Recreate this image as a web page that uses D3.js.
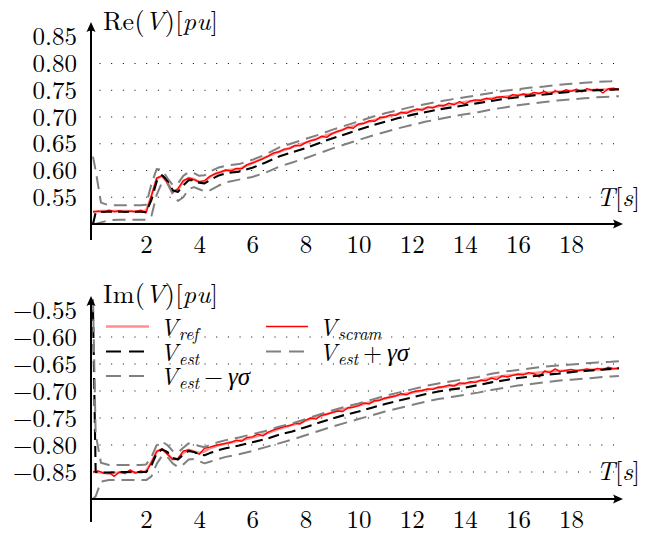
<!DOCTYPE html>
<html><head><meta charset="utf-8">
<script src="https://cdn.jsdelivr.net/npm/d3@7/dist/d3.min.js"></script>
<style>body{margin:0;background:#fff}</style></head><body>
<script>
// ---------- data ----------
const tSmooth=[0,0.1,0.3,0.6,1.0,1.4,1.8,2.0,2.2,2.4,2.6,2.8,3.0,3.2,3.4,3.6,3.8,4.0,4.2,4.4,4.7,5.0,5.5,6.0,6.5,7.0,7.5,8.0,8.5,9.0,9.5,10.0,10.5,11.0,11.5,12.0,12.5,13.0,13.5,14.0,14.5,15.0,15.5,16.0,16.5,17.0,17.5,18.0,18.5,19.0,19.5,19.8];
const tScram=[0,0.2,0.4,0.6,0.8,1.0,1.2,1.4,1.6,1.8,2.0,2.2,2.4,2.6,2.8,3.0,3.2,3.4,3.6,3.8,4.0,4.2,4.4,4.6,4.8,5.0,5.2,5.4,5.6,5.8,6.0,6.2,6.4,6.6,6.8,7.0,7.2,7.4,7.6,7.8,8.0,8.2,8.4,8.6,8.8,9.0,9.2,9.4,9.6,9.8,10.0,10.2,10.4,10.6,10.8,11.0,11.2,11.4,11.6,11.8,12.0,12.2,12.4,12.6,12.8,13.0,13.2,13.4,13.6,13.8,14.0,14.2,14.4,14.6,14.8,15.0,15.2,15.4,15.6,15.8,16.0,16.2,16.4,16.6,16.8,17.0,17.2,17.4,17.6,17.8,18.0,18.2,18.4,18.6,18.8,19.0,19.2,19.4,19.6,19.8];

const reRef=[0.523,0.523,0.524,0.524,0.524,0.524,0.523,0.525,0.552,0.585,0.590,0.578,0.560,0.565,0.580,0.586,0.584,0.578,0.580,0.588,0.596,0.600,0.603,0.614,0.625,0.635,0.644,0.652,0.661,0.669,0.678,0.686,0.693,0.700,0.706,0.711,0.716,0.720,0.724,0.728,0.731,0.735,0.738,0.741,0.743,0.745,0.747,0.749,0.750,0.751,0.752,0.752];
const reEst=[0.500,0.521,0.523,0.523,0.523,0.523,0.523,0.522,0.545,0.580,0.591,0.582,0.563,0.560,0.572,0.582,0.582,0.577,0.576,0.582,0.590,0.595,0.598,0.605,0.615,0.626,0.634,0.642,0.651,0.660,0.668,0.676,0.684,0.691,0.698,0.704,0.709,0.714,0.718,0.722,0.726,0.730,0.734,0.737,0.740,0.742,0.745,0.747,0.749,0.750,0.751,0.752];
const reUp=[0.626,0.600,0.540,0.535,0.535,0.535,0.535,0.536,0.575,0.603,0.601,0.586,0.573,0.576,0.590,0.597,0.595,0.590,0.591,0.598,0.605,0.609,0.612,0.620,0.630,0.643,0.651,0.659,0.667,0.676,0.684,0.692,0.700,0.707,0.713,0.719,0.724,0.729,0.733,0.737,0.741,0.745,0.749,0.752,0.755,0.757,0.760,0.762,0.764,0.766,0.767,0.768];
const reLo=[0.500,0.500,0.503,0.507,0.508,0.508,0.508,0.508,0.515,0.555,0.578,0.576,0.556,0.543,0.550,0.565,0.569,0.565,0.561,0.563,0.571,0.578,0.583,0.588,0.596,0.607,0.615,0.623,0.632,0.641,0.649,0.657,0.665,0.672,0.679,0.685,0.691,0.696,0.701,0.705,0.709,0.714,0.718,0.722,0.725,0.728,0.731,0.733,0.735,0.737,0.738,0.739];
const reScram=[0.523,0.524,0.522,0.526,0.523,0.525,0.522,0.524,0.523,0.526,
0.521,0.553,0.586,0.590,0.577,0.559,0.566,0.581,0.586,0.583,
0.579,0.581,0.589,0.594,0.597,0.601,0.599,0.604,0.603,0.611,
0.614,0.618,0.622,0.627,0.633,0.635,0.640,0.641,0.647,0.646,
0.652,0.656,0.658,0.664,0.662,0.669,0.673,0.676,0.681,0.679,
0.687,0.688,0.693,0.692,0.699,0.700,0.704,0.703,0.709,0.707,
0.712,0.715,0.713,0.719,0.717,0.722,0.721,0.726,0.723,0.729,
0.724,0.730,0.732,0.731,0.735,0.733,0.737,0.738,0.736,0.742,
0.740,0.743,0.741,0.746,0.744,0.748,0.743,0.749,0.746,0.751,
0.748,0.752,0.747,0.753,0.750,0.752,0.745,0.753,0.754,0.751];

const imRef=[-0.850,-0.850,-0.851,-0.853,-0.851,-0.850,-0.851,-0.848,-0.832,-0.812,-0.808,-0.816,-0.826,-0.826,-0.814,-0.809,-0.812,-0.815,-0.812,-0.806,-0.801,-0.797,-0.792,-0.786,-0.779,-0.770,-0.763,-0.755,-0.747,-0.740,-0.733,-0.727,-0.720,-0.714,-0.708,-0.703,-0.698,-0.694,-0.690,-0.686,-0.682,-0.676,-0.672,-0.669,-0.667,-0.665,-0.663,-0.662,-0.661,-0.660,-0.659,-0.658];
const imEst=[-0.550,-0.850,-0.851,-0.851,-0.850,-0.850,-0.850,-0.850,-0.838,-0.815,-0.808,-0.813,-0.824,-0.827,-0.818,-0.811,-0.813,-0.817,-0.819,-0.815,-0.810,-0.806,-0.801,-0.795,-0.789,-0.781,-0.775,-0.767,-0.759,-0.751,-0.744,-0.738,-0.731,-0.724,-0.718,-0.712,-0.706,-0.701,-0.697,-0.694,-0.689,-0.684,-0.680,-0.676,-0.673,-0.670,-0.668,-0.665,-0.663,-0.661,-0.659,-0.658];
const imUp=[-0.530,-0.780,-0.833,-0.837,-0.837,-0.837,-0.837,-0.836,-0.822,-0.800,-0.794,-0.800,-0.811,-0.814,-0.805,-0.797,-0.798,-0.802,-0.804,-0.800,-0.795,-0.791,-0.786,-0.780,-0.774,-0.766,-0.760,-0.752,-0.744,-0.736,-0.729,-0.723,-0.716,-0.709,-0.703,-0.697,-0.691,-0.686,-0.682,-0.678,-0.674,-0.668,-0.664,-0.661,-0.658,-0.655,-0.653,-0.651,-0.649,-0.647,-0.646,-0.645];
const imLo=[-0.900,-0.895,-0.868,-0.865,-0.865,-0.865,-0.865,-0.865,-0.858,-0.835,-0.820,-0.822,-0.834,-0.841,-0.836,-0.827,-0.826,-0.830,-0.834,-0.831,-0.826,-0.822,-0.817,-0.811,-0.804,-0.797,-0.790,-0.782,-0.774,-0.766,-0.759,-0.752,-0.745,-0.738,-0.732,-0.726,-0.720,-0.715,-0.711,-0.707,-0.703,-0.698,-0.694,-0.690,-0.687,-0.684,-0.681,-0.679,-0.677,-0.675,-0.673,-0.672];
const imScram=[-0.850,-0.848,-0.852,-0.851,-0.858,-0.850,-0.853,-0.846,-0.852,-0.848,
-0.851,-0.832,-0.812,-0.807,-0.817,-0.827,-0.825,-0.811,-0.809,-0.813,
-0.817,-0.806,-0.804,-0.801,-0.799,-0.797,-0.795,-0.791,-0.793,-0.786,
-0.785,-0.780,-0.783,-0.776,-0.772,-0.769,-0.766,-0.764,-0.760,-0.761,
-0.754,-0.750,-0.752,-0.745,-0.743,-0.740,-0.737,-0.738,-0.731,-0.730,
-0.727,-0.722,-0.724,-0.718,-0.717,-0.713,-0.711,-0.709,-0.705,-0.707,
-0.702,-0.700,-0.699,-0.696,-0.697,-0.693,-0.692,-0.689,-0.691,-0.685,
-0.686,-0.683,-0.684,-0.680,-0.681,-0.676,-0.679,-0.672,-0.674,-0.671,
-0.669,-0.670,-0.666,-0.668,-0.674,-0.663,-0.666,-0.659,-0.664,-0.662,
-0.660,-0.663,-0.661,-0.659,-0.662,-0.658,-0.661,-0.656,-0.659,-0.658];

const xTicks=[2,4,6,8,10,12,14,16,18];
const reTicks=[0.55,0.60,0.65,0.70,0.75,0.80,0.85];
const imTicks=[-0.85,-0.80,-0.75,-0.70,-0.65,-0.60,-0.55];

// ---------- drawing ----------
const FONT='"Latin Modern Roman","Liberation Serif"';
const GREEK='"Liberation Serif","Latin Modern Roman"';
const svg=d3.select('body').append('svg').attr('width',653).attr('height',536);
svg.append('rect').attr('width',653).attr('height',536).attr('fill','#fff');

const AX=91, XEND=623;
const x=d3.scaleLinear().domain([0,20]).range([93,93+20*26.56]);

const styles={
  ref:{stroke:'#ff8585',w:2.6,dash:null,op:0.9},
  scram:{stroke:'#ff0000',w:1.4,dash:null,op:1},
  est:{stroke:'#000',w:2.1,dash:'11 6',op:1},
  up:{stroke:'#808080',w:2.0,dash:'13 7',op:1},
  lo:{stroke:'#808080',w:2.0,dash:'13 7',op:1}
};

function txt(sel){ return sel.style('font-family',FONT).attr('fill','#000'); }

function drawPanel(o){
  const y=d3.scaleLinear().domain(o.dom).range(o.rng);
  const g=svg.append('g');
  const yAxisY=o.rng[0];
  // grid
  o.ticks.slice(0,-1).forEach(v=>{
    g.append('line').attr('x1',99.5).attr('x2',XEND).attr('y1',y(v)).attr('y2',y(v))
     .attr('stroke','#000').attr('stroke-width',1.1).attr('stroke-dasharray','1 10.67');
  });
  // y tick labels
  const ya=g.append('g').attr('transform',`translate(${AX},0)`)
    .call(d3.axisLeft(y).tickValues(o.ticks).tickSize(0).tickPadding(14).tickFormat(d3.format('.2f')));
  ya.select('.domain').remove();
  txt(ya.selectAll('text')).style('font-size','25px');
  // x tick labels
  const xa=g.append('g').attr('transform',`translate(0,${yAxisY})`)
    .call(d3.axisBottom(x).tickValues(xTicks).tickSize(0).tickPadding(11).tickFormat(d3.format('d')));
  xa.select('.domain').remove();
  txt(xa.selectAll('text')).style('font-size','25px');

  // series
  const line=d3.line().x(d=>x(d[0])).y(d=>y(d[1]));
  const series=[
    ['ref',tSmooth,o.ref],['scram',tScram,o.scram],['est',tSmooth,o.est],['up',tSmooth,o.up],['lo',tSmooth,o.lo]
  ];
  series.forEach(([k,ts,vs])=>{
    const s=styles[k];
    g.append('path').datum(ts.map((t,i)=>[t,vs[i]])).attr('d',line)
     .attr('fill','none').attr('stroke',s.stroke).attr('stroke-width',s.w)
     .attr('stroke-dasharray',s.dash).attr('opacity',s.op)
     .attr('stroke-linejoin','round');
  });

  // axes
  g.append('line').attr('x1',AX).attr('x2',AX).attr('y1',o.yAxisBottom).attr('y2',o.yArrow+3)
   .attr('stroke','#000').attr('stroke-width',2);
  g.append('line').attr('x1',AX).attr('x2',XEND-3).attr('y1',yAxisY).attr('y2',yAxisY)
   .attr('stroke','#000').attr('stroke-width',2);
  g.append('path').attr('d',`M${XEND},${yAxisY} L${XEND-10},${yAxisY-4.5} Q${XEND-7},${yAxisY} ${XEND-10},${yAxisY+4.5} Z`).attr('fill','#000');
  g.append('path').attr('d',`M${AX},${o.yArrow} L${AX-4.5},${o.yArrow+10} Q${AX},${o.yArrow+7} ${AX+4.5},${o.yArrow+10} Z`).attr('fill','#000');

  // axis labels
  const yl=txt(g.append('text')).attr('x',103).attr('y',o.labelY).style('font-size','26px')
     .attr('textLength',115).attr('lengthAdjust','spacing');
  yl.append('tspan').text(o.fn+'(');
  yl.append('tspan').attr('font-style','italic').text('V');
  yl.append('tspan').text(')[');
  yl.append('tspan').attr('font-style','italic').text('pu');
  yl.append('tspan').text(']');
  const xl=txt(g.append('text')).attr('x',640).attr('y',o.tY).style('font-size','26px').attr('text-anchor','end');
  xl.append('tspan').attr('font-style','italic').text('T');
  xl.append('tspan').text('[');
  xl.append('tspan').attr('font-style','italic').text('s');
  xl.append('tspan').text(']');
  return g;
}

drawPanel({dom:[0.5,0.85],rng:[224,36.8],ticks:reTicks,ref:reRef,scram:reScram,est:reEst,up:reUp,lo:reLo,
  yArrow:22,yAxisBottom:240,labelY:30,tY:206,fn:'Re'});
const gb=drawPanel({dom:[-0.9,-0.55],rng:[499,310],ticks:imTicks,ref:imRef,scram:imScram,est:imEst,up:imUp,lo:imLo,
  yArrow:296,yAxisBottom:522,labelY:303,tY:480,fn:'Im'});

// legend
const legend=[
  {k:'ref',col:0,row:0,sub:'ref',extra:null},
  {k:'scram',col:1,row:0,sub:'scram',extra:null},
  {k:'est',col:0,row:1,sub:'est',extra:null},
  {k:'up',col:1,row:1,sub:'est',extra:'+'},
  {k:'lo',col:0,row:2,sub:'est',extra:'\u2212'}
];
const colX=[[106,149,160],[266,308,319]], rowY=[326.5,351.5,376];
legend.forEach(e=>{
  const s=styles[e.k]; const [a,b,tx]=colX[e.col]; const yy=rowY[e.row];
  gb.append('line').attr('x1',a).attr('x2',b).attr('y1',yy).attr('y2',yy)
    .attr('stroke',s.stroke).attr('stroke-width',s.w).attr('opacity',s.op)
    .attr('stroke-dasharray',s.dash?'15 8':null);
  const t=txt(gb.append('text')).attr('x',tx).attr('y',yy+9).style('font-size','24px');
  t.append('tspan').attr('font-style','italic').text('V');
  t.append('tspan').attr('font-style','italic').style('font-size','17px').attr('dy',4).attr('dx',1).text(e.sub);
  if(e.extra){
    t.append('tspan').attr('dy',-4).attr('dx',5).text(e.extra);
    t.append('tspan').attr('dx',5).attr('font-style','italic').style('font-family',GREEK).style('font-size','25px').text('\u03b3\u03c3');
  }
});
</script>
</body></html>
